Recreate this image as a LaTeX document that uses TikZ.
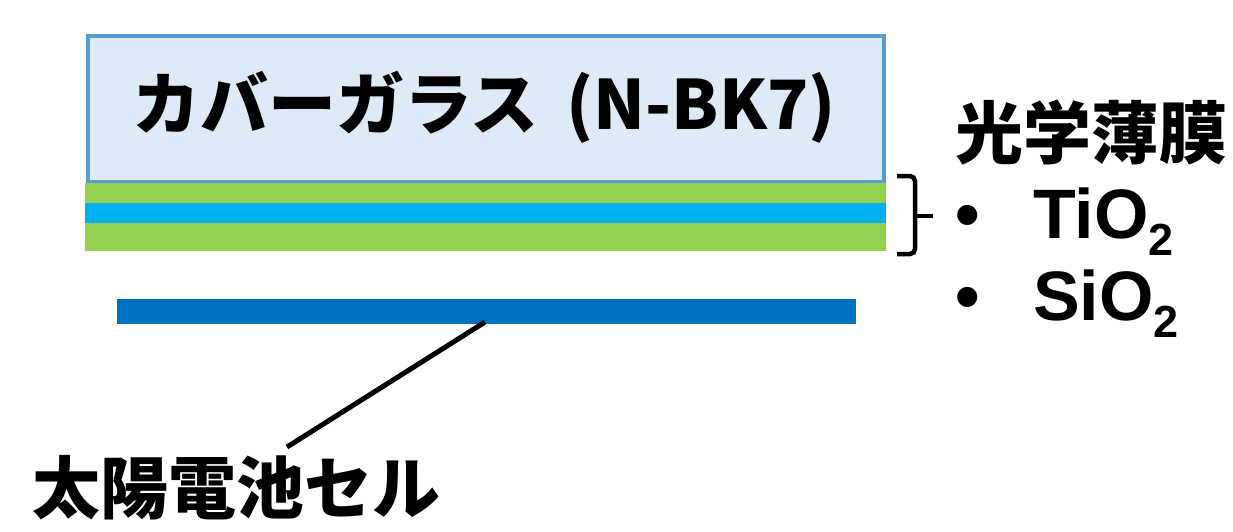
\documentclass[tikz,border=0pt]{standalone}
\usepackage{fontspec}
\newfontfamily\jp{Noto Sans CJK JP}
\newfontfamily\ar{Liberation Sans}
\definecolor{glassfill}{HTML}{DEEBF7}
\definecolor{glassline}{HTML}{5B9BD5}
\definecolor{tigreen}{HTML}{92D050}
\definecolor{siblue}{HTML}{00B0F0}
\definecolor{cellblue}{HTML}{0070C0}
\begin{document}
\begin{tikzpicture}[x=1pt,y=-1pt,
  layer/.style={draw=none,inner sep=0pt,outer sep=0pt,anchor=north west},
  bigjp/.style={font=\jp\bfseries\fontsize{68}{68}\selectfont,inner sep=0pt},
  formula/.style={font=\ar\bfseries\fontsize{70}{70}\selectfont,inner sep=0pt,anchor=base west},
  dot/.style={font=\ar\bfseries\fontsize{70}{70}\selectfont,inner sep=0pt,anchor=base},
  pointer/.style={line width=5pt,black},
  bracket/.style={line width=4.5pt,black,rounded corners=5pt}]
\useasboundingbox (0,0) rectangle (1233,531);
% cover glass
\node[layer,fill=glassfill,draw=glassline,line width=4.5pt,minimum width=796pt,minimum height=146pt] (glass) at (88,36) {};
\node[bigjp] (glasslabel) at (484,107) {カバーガラス\hspace{28pt}(N-BK7)};
% thin films
\node[layer,fill=tigreen,minimum width=801pt,minimum height=20pt] (ti1) at (85,183) {};
\node[layer,fill=siblue,minimum width=801pt,minimum height=20pt] (si1) at (85,203) {};
\node[layer,fill=tigreen,minimum width=801pt,minimum height=28pt] (ti2) at (85,223) {};
% solar cell
\node[layer,fill=cellblue,minimum width=739pt,minimum height=25pt] (cell) at (117,299) {};
\node[bigjp] (celllabel) at (236,488) {太陽電池セル};
\coordinate (celltip) at (485,322);
\coordinate (labeltip) at (287,447);
\draw[pointer] (celltip) -- (labeltip);
% brace
\coordinate (bt) at (897,176);
\coordinate (bb) at (897,254);
\coordinate (bm) at (933,216);
\draw[bracket] (bt) -- (915,176) -- (915,254) -- (bb);
\draw[line width=4.5pt] (915,216) -- (bm);
% labels
\node[bigjp,anchor=base west] (films) at (955,158) {光学薄膜};
\node[dot] (d1) at (968,238) {•};
\node[formula] (tio) at (1033,238) {TiO\raisebox{-17pt}{\fontsize{45}{45}\selectfont 2}};
\node[dot] (d2) at (968,320) {•};
\node[formula] (sio) at (1033,320) {SiO\raisebox{-17pt}{\fontsize{45}{45}\selectfont 2}};
\end{tikzpicture}
\end{document}
